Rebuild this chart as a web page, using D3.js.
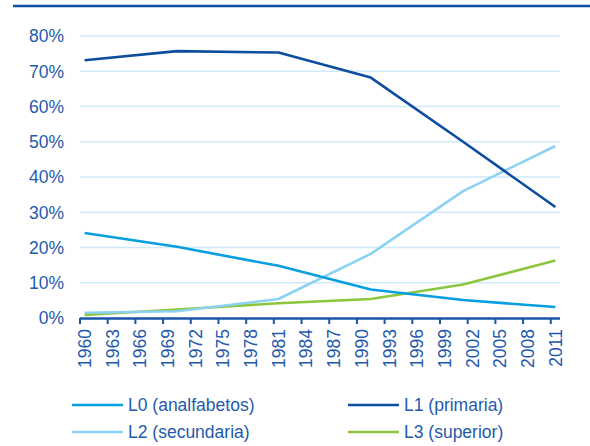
<!DOCTYPE html>
<html>
<head>
<meta charset="UTF-8">
<title>Niveles educativos 1960-2011</title>
<style>
body { margin: 0; background: #fff; }
text { font-family: "Liberation Sans", Arial, sans-serif; fill: #1f5aad; }
.grid line { stroke: #cfeaf8; stroke-width: 1.5; }
.serie { fill: none; stroke-width: 2.6; stroke-linejoin: round; }
</style>
</head>
<body>
<svg id="chart"></svg>
<script src="https://d3js.org/d3.v7.min.js"></script>
<script>

// años censales con dato
var censos = [1960, 1970, 1981, 1991, 2001, 2011];

// porcentajes por nivel
var l0 = [24.1, 20.2, 14.8, 8.1, 5.1, 3.1];
var l1 = [73.1, 75.7, 75.3, 68.2, 50.0, 31.5];
var l2 = [1.5, 1.9, 5.4, 18.2, 36.0, 48.8];
var l3 = [0.9, 2.4, 4.2, 5.4, 9.5, 16.3];

var nombres = ["L0 (analfabetos)", "L1 (primaria)", "L2 (secundaria)", "L3 (superior)"];
var colores = ["#079fe0", "#0d4c9f", "#8dd2f2", "#8cc63f"];

var anios = d3.range(1960, 2012);
var etiquetas = [1960, 1963, 1966, 1969, 1972, 1975, 1978, 1981, 1984, 1987,
  1990, 1993, 1996, 1999, 2002, 2005, 2008, 2011];
var yTicks = [0, 10, 20, 30, 40, 50, 60, 70, 80];

var width = 590, height = 446;

var svg = d3.select("#chart")
  .attr("width", width)
  .attr("height", height);

// raya superior
svg.append("line")
  .attr("x1", 13).attr("x2", 590)
  .attr("y1", 6).attr("y2", 6)
  .attr("stroke", "#0d4fa0")
  .attr("stroke-width", 2.5);

var x = d3.scaleBand().domain(anios).range([80, 560]);
var y = d3.scaleLinear().domain([0, 80]).range([318, 36]);

function cx(a) { return x(a) + x.bandwidth() / 2; }

svg.append("g")
  .attr("class", "grid")
  .selectAll("line")
  .data(yTicks.filter(function (d) { return d > 0; }))
  .enter().append("line")
  .attr("x1", 80).attr("x2", 560)
  .attr("y1", function (d) { return y(d); })
  .attr("y2", function (d) { return y(d); });

svg.append("g")
  .selectAll("text")
  .data(yTicks)
  .enter().append("text")
  .attr("x", 64)
  .attr("y", function (d) { return y(d); })
  .attr("dy", "0.36em")
  .attr("text-anchor", "end")
  .style("font-size", "17.5px")
  .text(function (d) { return d + "%"; });

var series = [l0, l1, l2, l3];

var linea = d3.line()
  .x(function (d, i) { return cx(censos[i]); })
  .y(function (d) { return y(d); });

svg.append("g")
  .selectAll("path")
  .data([l3, l2, l0, l1])
  .enter().append("path")
  .attr("class", "serie")
  .attr("stroke", function (d) { return colores[series.indexOf(d)]; })
  .attr("d", linea);

// eje x
svg.append("line")
  .attr("x1", 80).attr("x2", 560)
  .attr("y1", 318.5).attr("y2", 318.5)
  .attr("stroke", "#1a55a8")
  .attr("stroke-width", 2.5);

svg.append("g")
  .selectAll("line")
  .data(etiquetas)
  .enter().append("line")
  .attr("x1", function (d) { return x(d); })
  .attr("x2", function (d) { return x(d); })
  .attr("y1", 318).attr("y2", 324)
  .attr("stroke", "#1a55a8")
  .attr("stroke-width", 2);

svg.append("g")
  .selectAll("text")
  .data(etiquetas)
  .enter().append("text")
  .attr("transform", function (d) { return "translate(" + cx(d) + ",329) rotate(-90)"; })
  .attr("dy", "0.36em")
  .attr("text-anchor", "end")
  .style("font-size", "17.5px")
  .text(function (d) { return d; });

// leyenda
var leyenda = svg.append("g")
  .selectAll("g")
  .data(nombres)
  .enter().append("g")
  .attr("transform", function (d, i) {
    return "translate(" + (i % 2 === 0 ? 72 : 348) + "," + (i < 2 ? 405 : 432) + ")";
  });

leyenda.append("line")
  .attr("x1", 0).attr("x2", 51)
  .attr("stroke", function (d, i) { return colores[i]; })
  .attr("stroke-width", 2.6);

leyenda.append("text")
  .attr("x", 56)
  .attr("dy", "0.36em")
  .style("font-size", "17.5px")
  .text(function (d) { return d; });

</script>
</body>
</html>
